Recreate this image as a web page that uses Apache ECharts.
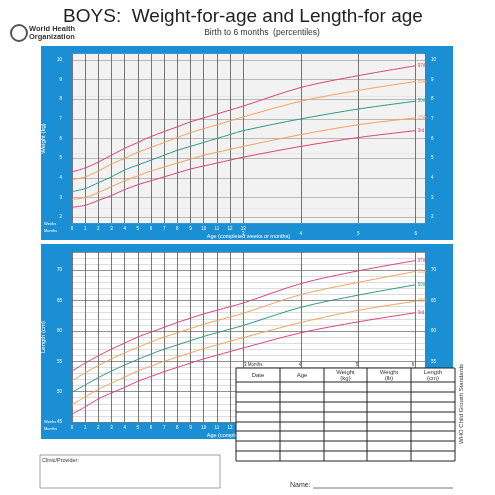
<!DOCTYPE html>
<html><head><meta charset="utf-8">
<script src="https://cdn.jsdelivr.net/npm/echarts@6/dist/echarts.min.js"></script>
<style>html,body{margin:0;padding:0;background:#fff}#c{width:495px;height:495px}</style>
</head><body><div id="c"></div>
<script>
// Age positions in weeks: weeks 0..13, then months 4,5,6
const ageWeeks = [0,1,2,3,4,5,6,7,8,9,10,11,12,13,17.39,21.74,26.09];
const weekTicks = [0,1,2,3,4,5,6,7,8,9,10,11,12,13];
const monthTicks = [13,17.39,21.74,26.09];
const monthLabels = ['3','4','5','6'];
const percentileNames = ['97th','85th','50th','15th','3rd'];
const percentileColors = ['#d9457a','#f2a25e','#2e9a86','#f2a25e','#d9457a'];
// Weight-for-age (kg)
const w97 = [4.3,4.5,4.8,5.15,5.5,5.8,6.1,6.35,6.6,6.85,7.05,7.25,7.45,7.65,8.6,9.2,9.7];
const w85 = [3.9,4.05,4.35,4.7,5.0,5.3,5.55,5.8,6.05,6.3,6.5,6.7,6.9,7.1,7.9,8.45,8.9];
const w50 = [3.3,3.45,3.75,4.05,4.4,4.65,4.9,5.15,5.4,5.6,5.8,6.0,6.2,6.4,7.0,7.5,7.9];
const w15 = [2.9,3.0,3.25,3.55,3.85,4.1,4.35,4.55,4.75,4.95,5.15,5.3,5.45,5.6,6.2,6.7,7.05];
const w3  = [2.5,2.6,2.85,3.1,3.4,3.65,3.85,4.05,4.25,4.45,4.6,4.75,4.9,5.05,5.6,6.05,6.4];
// Length-for-age (cm)
const l97 = [53.4,54.7,55.9,57.0,58.0,59.0,59.8,60.6,61.4,62.1,62.8,63.4,64.0,64.6,67.8,69.9,71.6];
const l85 = [51.8,53.1,54.3,55.4,56.4,57.3,58.2,59.0,59.7,60.4,61.1,61.7,62.3,62.9,66.0,68.0,69.8];
const l50 = [49.9,51.1,52.3,53.4,54.4,55.3,56.2,57.0,57.7,58.4,59.1,59.7,60.3,60.9,63.9,65.9,67.6];
const l15 = [47.9,49.1,50.4,51.4,52.4,53.4,54.2,55.0,55.7,56.4,57.1,57.7,58.3,58.9,61.4,63.4,64.9];
const l3  = [46.3,47.5,48.8,49.8,50.7,51.7,52.5,53.3,54.0,54.7,55.4,56.0,56.6,57.2,59.7,61.5,63.0];
const weightTicks = [2,3,4,5,6,7,8,9,10];
const lengthTicks = [45,50,55,60,65,70];
const tableHeaders = ['Date','Age','Weight\n(kg)','Weight\n(lb)','Length\n(cm)'];

const wSets=[w97,w85,w50,w15,w3], lSets=[l97,l85,l50,l15,l3];
const BLUE='#1b8fd4';
const lbl={color:'#fff',fontSize:4.5,fontFamily:'Liberation Sans'};
function xAxes(gi){
  return [
   {type:'value',gridIndex:gi,min:0,max:26.8,position:'bottom',
    axisLine:{show:false},axisTick:{show:false,customValues:weekTicks.concat(monthTicks.slice(1))},
    axisLabel:Object.assign({customValues:weekTicks,margin:3},lbl),
    splitLine:{show:true,lineStyle:{color:'#555',width:0.8}},
    name:'Age (completed weeks or months)',nameLocation:'middle',nameGap:10,
    nameTextStyle:{color:'#fff',fontSize:5.5,fontFamily:'Liberation Sans'}},
   {type:'value',gridIndex:gi,min:0,max:26.8,position:'bottom',offset:4,
    axisLine:{show:false},axisTick:{show:false},splitLine:{show:false},
    axisLabel:Object.assign({customValues:monthTicks,margin:4,formatter:v=>monthLabels[monthTicks.indexOf(v)]||''},lbl)}
  ];
}
const series=[];
percentileNames.forEach((n,i)=>{
  series.push({type:'line',name:n,xAxisIndex:0,yAxisIndex:0,smooth:0.3,symbol:'none',
    data:ageWeeks.map((x,j)=>[x,wSets[i][j]]),lineStyle:{color:percentileColors[i],width:1},
    endLabel:{show:true,formatter:n,color:percentileColors[i],fontSize:4.5,distance:2}});
  series.push({type:'line',name:n+'L',xAxisIndex:2,yAxisIndex:3,smooth:0.3,symbol:'none',
    data:ageWeeks.map((x,j)=>[x,lSets[i][j]]),lineStyle:{color:percentileColors[i],width:1},
    endLabel:{show:true,formatter:n,color:percentileColors[i],fontSize:4.5,distance:2}});
});
const g=[];
g.push({type:'rect',shape:{x:41,y:46,width:412,height:194},style:{fill:BLUE},z:-10});
g.push({type:'rect',shape:{x:41,y:244,width:412,height:195},style:{fill:BLUE},z:-10});
g.push({type:'text',style:{text:'BOYS:  Weight-for-age and Length-for age',x:243,y:17,align:'center',verticalAlign:'middle',fontSize:19,fill:'#222',fontFamily:'Liberation Sans'}});
g.push({type:'text',style:{text:'Birth to 6 months  (percentiles)',x:262,y:33,align:'center',verticalAlign:'middle',fontSize:8.5,fill:'#333',fontFamily:'Liberation Sans'}});
g.push({type:'circle',shape:{cx:19,cy:33,r:8},style:{fill:'none',stroke:'#555',lineWidth:2}});
g.push({type:'text',style:{text:'World Health\nOrganization',x:29,y:33,verticalAlign:'middle',fontSize:7.5,fontWeight:'bold',fill:'#333',fontFamily:'Liberation Sans',lineHeight:8}});
g.push({type:'text',style:{text:'Weeks',x:44,y:222,fontSize:4,fill:'#fff'}});
g.push({type:'text',style:{text:'Months',x:44,y:229,fontSize:4,fill:'#fff'}});
g.push({type:'text',style:{text:'Weeks',x:44,y:420,fontSize:4,fill:'#fff'}});
g.push({type:'text',style:{text:'Months',x:44,y:427,fontSize:4,fill:'#fff'}});
const cols=[236,280,324,367,411,455], rows=[368,382,392,402,412,422,431,441,451,461];
g.push({type:'rect',shape:{x:236,y:368,width:219,height:93},style:{fill:'#fff',stroke:'#222',lineWidth:1},z:10});
cols.slice(1,-1).forEach(x=>g.push({type:'line',shape:{x1:x,y1:368,x2:x,y2:461},style:{stroke:'#222',lineWidth:1},z:11}));
rows.slice(1,-1).forEach(y=>g.push({type:'line',shape:{x1:236,y1:y,x2:455,y2:y},style:{stroke:'#222',lineWidth:1},z:11}));
tableHeaders.forEach((t,i)=>g.push({type:'text',z:12,style:{text:t,x:(cols[i]+cols[i+1])/2,y:375,align:'center',verticalAlign:'middle',fontSize:6,lineHeight:6,fill:'#333',fontFamily:'Liberation Sans'}}));
g.push({type:'text',z:12,style:{text:'3 Months',x:244,y:365,verticalAlign:'middle',fontSize:4.5,fill:'#333'}});
['4','5','6'].forEach((t,i)=>g.push({type:'text',z:12,style:{text:t,x:[300,357,413][i],y:365,align:'center',verticalAlign:'middle',fontSize:4.5,fill:'#333'}}));
g.push({type:'text',rotation:Math.PI/2,x:461,y:404,style:{text:'WHO Child Growth Standards',align:'center',verticalAlign:'middle',fontSize:6,fill:'#333',fontFamily:'Liberation Sans'}});
g.push({type:'rect',shape:{x:40,y:455,width:180,height:33},style:{fill:'none',stroke:'#888',lineWidth:0.8}});
g.push({type:'text',style:{text:'Clinic/Provider:',x:42,y:457,fontSize:5.5,fill:'#333',fontFamily:'Liberation Sans'}});
g.push({type:'text',style:{text:'Name:',x:290,y:485,verticalAlign:'middle',fontSize:7,fill:'#333',fontFamily:'Liberation Sans'}});
g.push({type:'line',shape:{x1:313,y1:488,x2:453,y2:488},style:{stroke:'#555',lineWidth:0.8}});

const chart=echarts.init(document.getElementById('c'),null,{renderer:'canvas'});
chart.setOption({
  animation:false,
  grid:[{left:72,right:70,top:54,height:169,backgroundColor:'#fff',show:true,borderWidth:0},
        {left:72,right:70,top:252,height:170,backgroundColor:'#fff',show:true,borderWidth:0}],
  xAxis:xAxes(0).concat(xAxes(1)),
  yAxis:[
   {type:'value',gridIndex:0,min:1.7,max:10.3,axisLine:{show:false},axisTick:{show:false,customValues:weightTicks},
    axisLabel:Object.assign({customValues:weightTicks,margin:10},lbl),splitLine:{show:true,lineStyle:{color:'#888',width:0.6}},
    name:'Weight (kg)',nameLocation:'middle',nameGap:14,nameTextStyle:{color:'#fff',fontSize:6}},
   {type:'value',gridIndex:0,min:1.7,max:10.3,interval:0.1,axisLine:{show:false},axisTick:{show:false},axisLabel:{show:false},
    splitLine:{show:true,lineStyle:{color:'#bbb',width:0.4}}},
   {type:'value',gridIndex:0,min:1.7,max:10.3,position:'right',axisLine:{show:false},axisTick:{show:false,customValues:weightTicks},
    axisLabel:Object.assign({customValues:weightTicks,margin:6},lbl),splitLine:{show:false}},
   {type:'value',gridIndex:1,min:45,max:73,interval:5,axisLine:{show:false},axisTick:{show:false},
    axisLabel:Object.assign({margin:10,customValues:lengthTicks},lbl),splitLine:{show:true,lineStyle:{color:'#777',width:0.8}},
    minorTick:{show:false,splitNumber:5},minorSplitLine:{show:true,lineStyle:{color:'#bbb',width:0.5}},
    name:'Length (cm)',nameLocation:'middle',nameGap:14,nameTextStyle:{color:'#fff',fontSize:6}},
   {type:'value',gridIndex:1,min:45,max:73,interval:5,position:'right',axisLine:{show:false},axisTick:{show:false},
    axisLabel:Object.assign({margin:6,customValues:lengthTicks},lbl),splitLine:{show:false}}
  ],
  series:series,
  graphic:g
});
</script></body></html>
